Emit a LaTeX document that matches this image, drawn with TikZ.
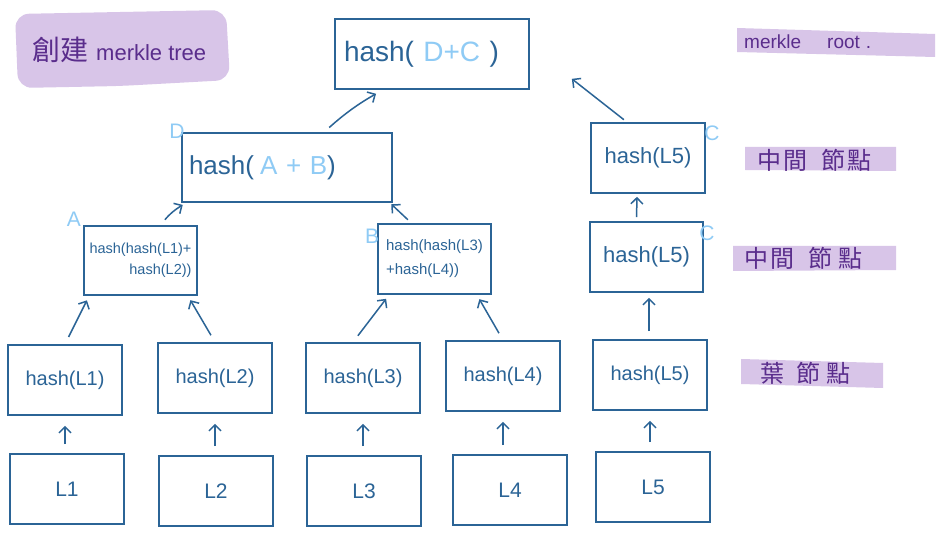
\documentclass[tikz,border=0pt]{standalone}
\usepackage{fontspec}
\setmainfont{Liberation Sans}
\newfontfamily\cjk{Noto Sans CJK TC}
\usetikzlibrary{arrows.meta,calc}
\definecolor{boxblue}{HTML}{2B6496}
\definecolor{lblue}{HTML}{8FCBF5}
\definecolor{lav}{HTML}{D8C5E8}
\definecolor{dpurple}{HTML}{5A2D8C}
\tikzset{
  hbox/.style={draw=boxblue, line width=1.7pt, rectangle, text=boxblue, inner sep=0pt},
  arr/.style={draw=boxblue, line width=1.5pt, -{Straight Barb[length=6pt,width=12pt,line width=1.5pt]}, shorten <=8pt, shorten >=5pt},
  tag/.style={text=lblue, font=\fontsize{21}{21}\selectfont, inner sep=0pt},
  band/.style={fill=lav, draw=none},
  note/.style={text=dpurple, inner sep=0pt, font=\cjk\fontsize{24}{24}\selectfont},
}
\begin{document}
\begin{tikzpicture}[x=1pt,y=-1pt]
\useasboundingbox[fill=white] (0,0) rectangle (942,534);

% highlights
\fill[lav, rounded corners=14pt] (15,14) -- (226,10) -- (230,80) -- (120,86) -- (18,88) -- cycle;
\node[note, anchor=west] (title) at (32,50) {\fontsize{28}{28}\selectfont 創建\hspace{8pt}{\rmfamily\fontsize{22}{22}\selectfont merkle tree}};
\fill[band] (737,28) -- (935,34) -- (935,57) -- (737,52) -- cycle;
\node[note, anchor=west] (mroot) at (744,42) {\rmfamily\fontsize{19}{19}\selectfont merkle\hspace{26pt}root\hspace{6pt}.};
\fill[band] (745,147) -- (896,147) -- (896,171) -- (745,170) -- cycle;
\node[note, anchor=west] (mid1) at (757,160) {中\hspace{2pt}間\hspace{14pt}節\hspace{2pt}點};
\fill[band] (733,246) -- (896,246) -- (896,270) -- (733,271) -- cycle;
\node[note, anchor=west] (mid2) at (744,258) {中\hspace{2pt}間\hspace{14pt}節\hspace{6pt}點};
\fill[band] (741,359) -- (883,363) -- (883,388) -- (741,384) -- cycle;
\node[note, anchor=west] (leafn) at (760,373) {葉\hspace{12pt}節\hspace{6pt}點};

% boxes
\node[hbox, minimum width=194pt, minimum height=70pt, text width=180pt, align=left, font=\fontsize{28}{28}\selectfont] (root) at (432,54) {\hspace{2pt}hash( {\color{lblue}D+C} )};
\node[hbox, minimum width=210pt, minimum height=69pt, text width=196pt, align=left, font=\fontsize{26}{26}\selectfont] (D) at (287,167.5) {hash(\hspace{6pt}{\color{lblue}A + B})};
\node[hbox, minimum width=113pt, minimum height=69pt, align=right, font=\fontsize{14.5}{21}\selectfont] (A) at (140.5,260.5) {hash(hash(L1)+\\hash(L2))};
\node[hbox, minimum width=113pt, minimum height=70pt, align=left, font=\fontsize{15}{24}\selectfont] (B) at (434.5,259) {hash(hash(L3)\\+hash(L4))};
\node[hbox, minimum width=114pt, minimum height=70pt, font=\fontsize{22}{22}\selectfont] (Cu) at (648,158) {hash(L5)};
\node[hbox, minimum width=113pt, minimum height=70pt, font=\fontsize{22}{22}\selectfont] (Cm) at (646.5,257) {hash(L5)};

\foreach \n/\x/\y/\t in {h1/65/380/L1, h2/215/378/L2, h3/363/378/L3, h4/503/376/L4, h5/650/375/L5}
  \node[hbox, minimum width=114pt, minimum height=70pt, font=\fontsize{20}{20}\selectfont] (\n) at (\x,\y) {hash(\t)};
\foreach \n/\x/\y/\t in {L1/67/489/L1, L2/216/491/L2, L3/364/491/L3, L4/510/490/L4, L5/653/487/L5}
  \node[hbox, minimum width=114pt, minimum height=70pt, font=\fontsize{21}{21}\selectfont] (\n) at (\x,\y) {\t};

% tags
\node[tag] (tD) at (177,131) {D};
\node[tag] (tA) at (74,219) {A};
\node[tag] (tB) at (372,236) {B};
\node[tag] (tC1) at (712,133) {C};
\node[tag] (tC2) at (707,233) {C};

% arrows leaf -> hash
\foreach \a/\b in {L1/h1, L2/h2, L3/h3, L4/h4, L5/h5}
  \draw[arr, shorten <=9pt, shorten >=10pt] (\b.south |- \a.north) -- (\b.south);

% hash -> intermediate
\draw[arr] (h1.north) -- ([xshift=6pt]A.south west);
\draw[arr] (h2.north) -- ([xshift=-10pt]A.south east);
\draw[arr] ([xshift=-10pt]h3.north) -- ([xshift=12pt]B.south west);
\draw[arr] (h4.north) -- ([xshift=-15pt]B.south east);
\draw[arr] ([xshift=-1pt]h5.north) -- ([xshift=2.5pt]Cm.south);
\draw[arr, shorten <=4pt, shorten >=3pt] ([xshift=-10pt]Cm.north) -- ([xshift=-11pt]Cu.south);

% intermediate -> upper
\draw[arr, shorten <=7pt, shorten >=4pt] ([xshift=20pt]A.north) to[bend left=10] ([xshift=5pt]D.south west);
\draw[arr, shorten <=5pt, shorten >=2pt] ([xshift=-23pt]B.north) -- ([xshift=-3pt]D.south east);
\draw[arr, shorten <=7pt, shorten >=8pt] ([xshift=37pt]D.north) to[bend left=6] ([xshift=-49pt]root.south);
\draw[arr, shorten <=4pt, shorten >=0pt] ([xshift=-21pt]Cu.north) -- ([xshift=42pt,yshift=11pt]root.south east);
\end{tikzpicture}
\end{document}
